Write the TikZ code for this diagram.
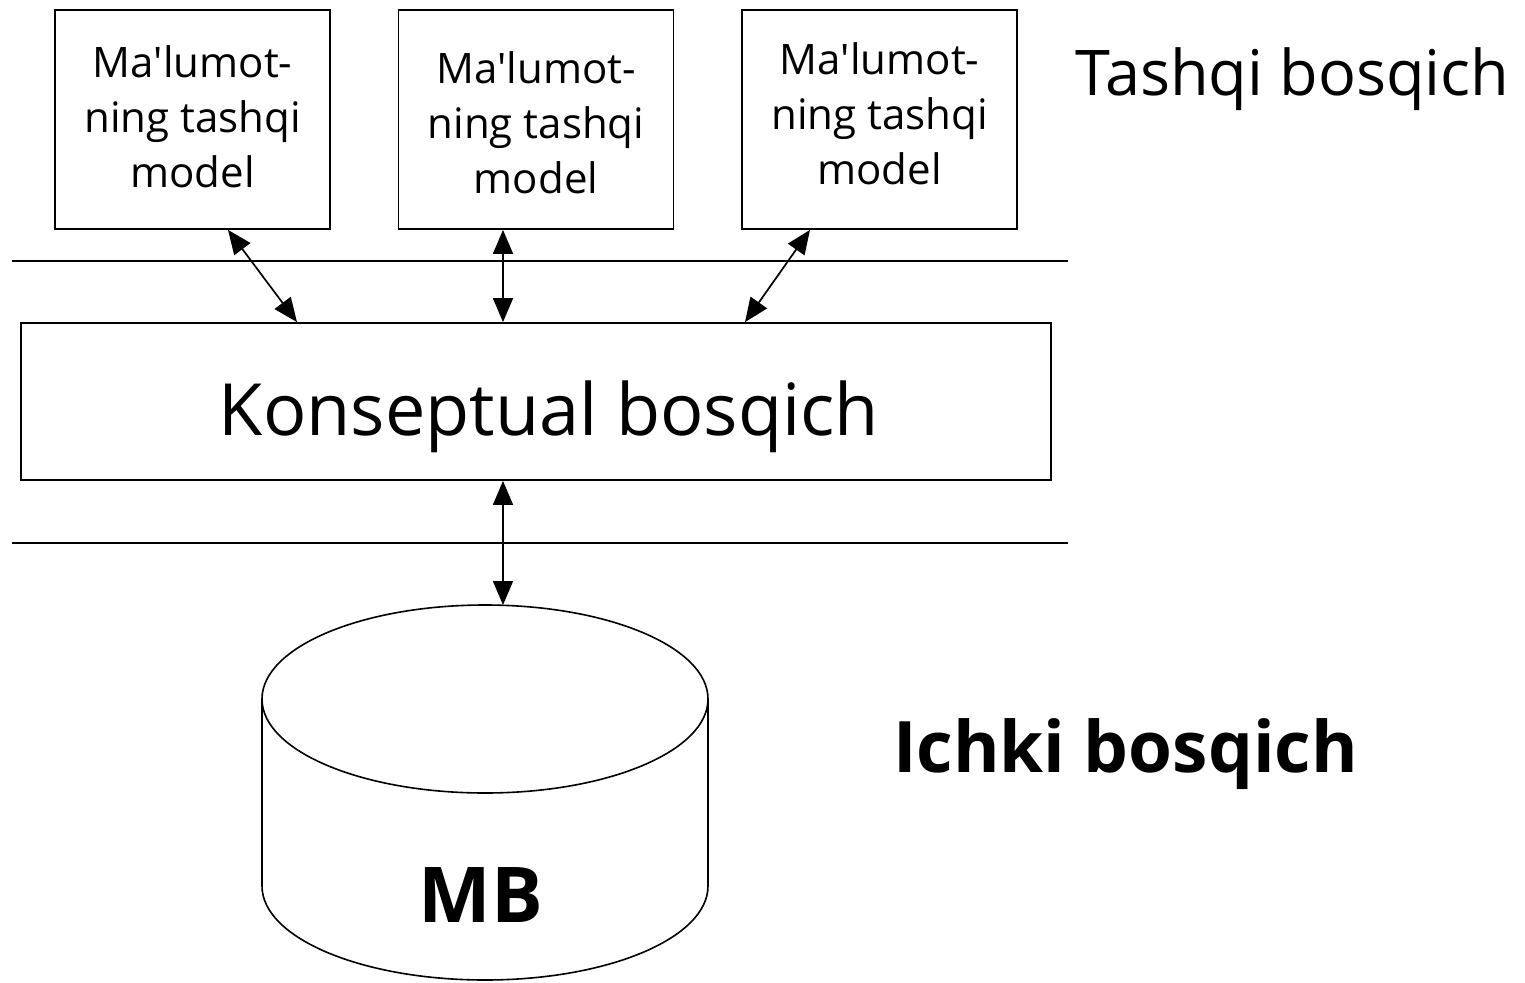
\documentclass[tikz,border=0pt]{standalone}
\usepackage{fontspec}
\setmainfont{Open Sans}
\usetikzlibrary{arrows.meta}
\tikzset{
  modelbox/.style={draw, line width=1.8pt, minimum width=275pt, minimum height=219pt, inner sep=0pt},
  modeltext/.style={align=center, inner sep=0pt, font=\fontsize{42}{55}\selectfont},
  konbox/.style={draw, line width=1.8pt, minimum width=1030pt, minimum height=157pt, inner sep=0pt},
  levelline/.style={line width=1.8pt},
  biarrow/.style={line width=1.7pt, {Triangle[length=24pt,width=20pt]}-{Triangle[length=24pt,width=20pt]}},
  biglabel/.style={inner sep=0pt},
  dbline/.style={line width=1.6pt}
}
\newcommand{\mtxt}{Ma\textquotesingle lumot-\\ning tashqi\\model}
\begin{document}
\begin{tikzpicture}[x=1pt,y=-1pt]
\useasboundingbox (0,0) rectangle (1525,982);
% external models
\node[modelbox] (m1) at (192.5,119.5) {};
\node[modelbox] (m2) at (536,119.5) {};
\node[modelbox] (m3) at (879.5,119.5) {};
\node[modeltext] (t1) at (192.5,116.5) {\mtxt};
\node[modeltext] (t2) at (536,122.5) {\mtxt};
\node[modeltext] (t3) at (879.5,114) {\mtxt};
% level lines
\draw[levelline] (12,261) -- (1068,261);
\draw[levelline] (12,543) -- (1068,543);
% conceptual
\node[konbox] (k) at (536,401.5) {};
\node[biglabel, font=\fontsize{72}{76}\selectfont, anchor=base] (kt) at (549,435) {Konseptual bosqich};
% labels
\node[biglabel, font=\fontsize{63}{68}\selectfont, anchor=base west] (tb) at (1075,95) {Tashqi bosqich};
\node[biglabel, font=\bfseries\fontsize{71}{76}\selectfont, anchor=base west] (ib) at (893,772) {Ichki bosqich};
% database cylinder
\draw[dbline] (485,699) ellipse [x radius=223pt, y radius=94pt];
\draw[dbline] (262,699) -- (262,886) arc[start angle=180, end angle=360, x radius=223pt, y radius=94pt] -- (708,699);
\coordinate (dbtop) at (503,605);
\node[font=\bfseries\fontsize{77}{80}\selectfont, anchor=base, inner sep=0pt] (mb) at (481,922) {MB};
% connectors
\draw[biarrow] ([xshift=35.5pt]m1.south) -- ([xshift=-239pt]k.north);
\draw[biarrow] ([xshift=-33pt]m2.south) -- ([xshift=-33pt]k.north);
\draw[biarrow] ([xshift=-69.5pt]m3.south) -- ([xshift=209pt]k.north);
\draw[biarrow] ([xshift=-33pt]k.south) -- (dbtop);
\end{tikzpicture}
\end{document}
